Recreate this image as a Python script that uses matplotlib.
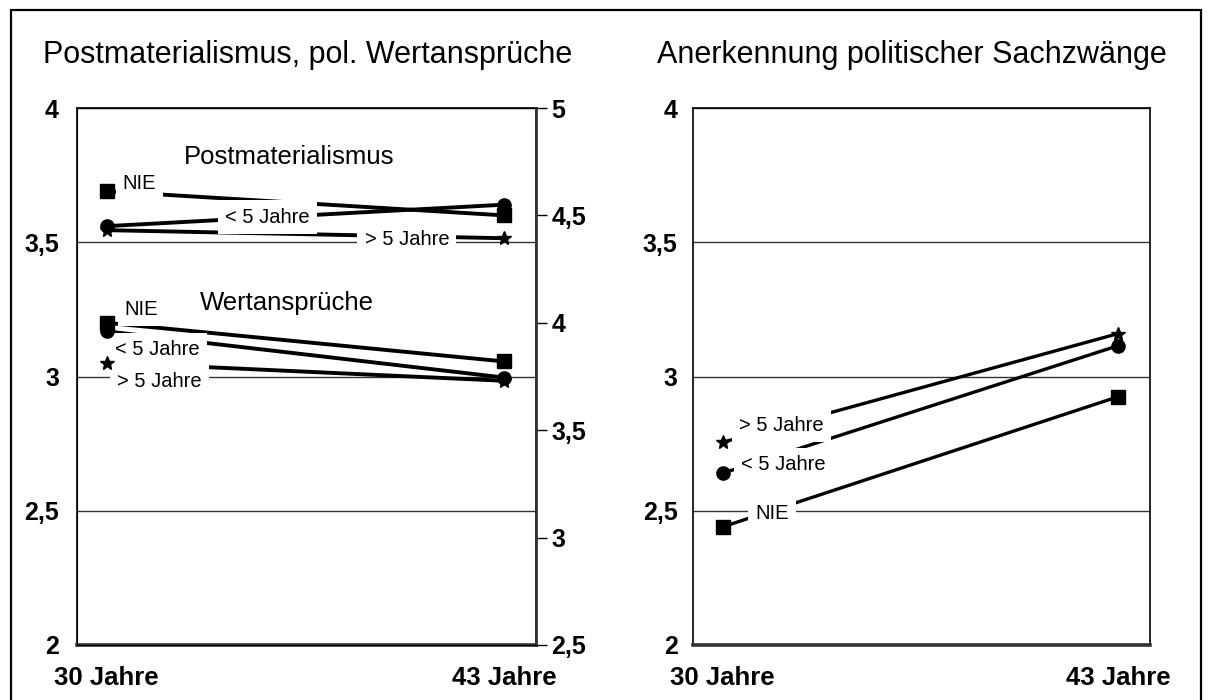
import matplotlib
matplotlib.use("Agg")
import matplotlib.pyplot as plt
from matplotlib.patches import Rectangle

plt.rcParams['font.family'] = ['Liberation Sans', 'DejaVu Sans']

# Daten
alter = ["30 Jahre", "43 Jahre"]
xpos = [0, 1]
gruppen = ["NIE", "< 5 Jahre", "> 5 Jahre"]
marker = ['s', 'o', '*']

# Postmaterialismus (linke Skala 2-4)
post_nie = [3.69, 3.60]
post_lt5 = [3.56, 3.64]
post_gt5 = [3.545, 3.515]

# Wertanspruche (rechte Skala 2,5-5)
wert_nie = [4.00, 3.82]
wert_lt5 = [3.96, 3.745]
wert_gt5 = [3.815, 3.73]

# Anerkennung politischer Sachzwange
sach_nie = [2.44, 2.925]
sach_lt5 = [2.64, 3.115]
sach_gt5 = [2.755, 3.16]

ticks_l = [2, 2.5, 3, 3.5, 4]
ticks_r = [2.5, 3, 3.5, 4, 4.5, 5]

W, H = 1208, 700
fig = plt.figure(figsize=(W / 100, H / 100), dpi=100)

ax = fig.add_axes([77 / W, 1 - 645 / H, (536 - 77) / W, (645 - 108) / H])
ax2 = ax.twinx()
ax3 = fig.add_axes([693 / W, 1 - 645 / H, (1150 - 693) / W, (645 - 108) / H])


def komma(v):
    return ("%g" % v).replace(".", ",")


def achse(a, pad_y):
    a.set_xlim(-0.075, 1.08)
    a.set_ylim(2, 4)
    a.set_yticks(ticks_l)
    a.set_yticklabels([komma(t) for t in ticks_l], fontsize=18, fontweight='bold')
    a.set_xticks(xpos)
    a.set_xticklabels(alter, fontsize=18.5, fontweight='bold')
    a.tick_params(axis='y', length=0, pad=pad_y)
    a.tick_params(axis='x', length=0, pad=15)
    a.grid(axis='y', color='#333333', lw=1)
    a.set_axisbelow(True)
    for s in ['top', 'left', 'right']:
        a.spines[s].set_linewidth(1.2)
        a.spines[s].set_color('black')
    a.spines['bottom'].set_linewidth(2.6)
    a.spines['bottom'].set_color('#333333')


def linie(a, werte, m, lw):
    # Linie unter den Beschriftungen, Marker darueber
    a.plot(xpos, werte, color='black', lw=lw, solid_capstyle='butt', zorder=2)
    a.plot(xpos, werte, ls='none', color='black', marker=m,
           ms=10 if m == '*' else 9.5, zorder=4)


achse(ax, 13)
achse(ax3, 11)

ax2.set_ylim(2.5, 5)
ax2.set_yticks(ticks_r)
ax2.set_yticklabels([komma(t) for t in ticks_r], fontsize=18, fontweight='bold')
ax2.tick_params(axis='y', length=8, width=1, pad=3)
ax2.spines['right'].set_linewidth(2)
ax2.spines['right'].set_color('#333333')

box = dict(boxstyle='square,pad=0.35', fc='white', ec='none')

# linkes Diagramm
for werte, m in zip([post_nie, post_lt5, post_gt5], marker):
    linie(ax, werte, m, 2.8)
for werte, m in zip([wert_nie, wert_lt5, wert_gt5], marker):
    linie(ax2, werte, m, 2.8)

ax2.text(0.46, 3.817, "Postmaterialismus", transform=ax.transData,
         ha='center', va='center', fontsize=18.5, zorder=3)
ax2.text(0.453, 3.274, "Wertansprüche", transform=ax.transData,
         ha='center', va='center', fontsize=18.5, zorder=3)

lab_post = [(0.0825, 3.72), (0.405, 3.594), (0.755, 3.512)]
for (x, y), g in zip(lab_post, gruppen):
    ax2.text(x, y, g, transform=ax.transData, ha='center', va='center',
             fontsize=14.5, bbox=box, zorder=3)

lab_wert = [(0.0875, 4.06), (0.1275, 3.8775), (0.1325, 3.729)]
for (x, y), g in zip(lab_wert, gruppen):
    ax2.text(x, y, g, ha='center', va='center', fontsize=14.5, bbox=box, zorder=3)

# rechtes Diagramm
for werte, m in zip([sach_nie, sach_lt5, sach_gt5], marker):
    linie(ax3, werte, m, 2.4)

lab_sach = [(0.125, 2.49), (0.153, 2.672), (0.148, 2.819)]
for (x, y), g in zip(lab_sach, gruppen):
    ax3.text(x, y, g, ha='center', va='center', fontsize=14.5, bbox=box, zorder=3)

fig.text(308 / W, 1 - 63 / H, "Postmaterialismus, pol. Wertansprüche",
         ha='center', va='baseline', fontsize=22)
fig.text(912 / W, 1 - 63 / H, "Anerkennung politischer Sachzwänge",
         ha='center', va='baseline', fontsize=22)

fig.add_artist(Rectangle((11 / W, -0.05), (1201 - 11) / W, 1 - 10 / H + 0.05,
                         transform=fig.transFigure, fill=False, lw=1.6, ec='black'))

fig.savefig("out.png", dpi=100)
